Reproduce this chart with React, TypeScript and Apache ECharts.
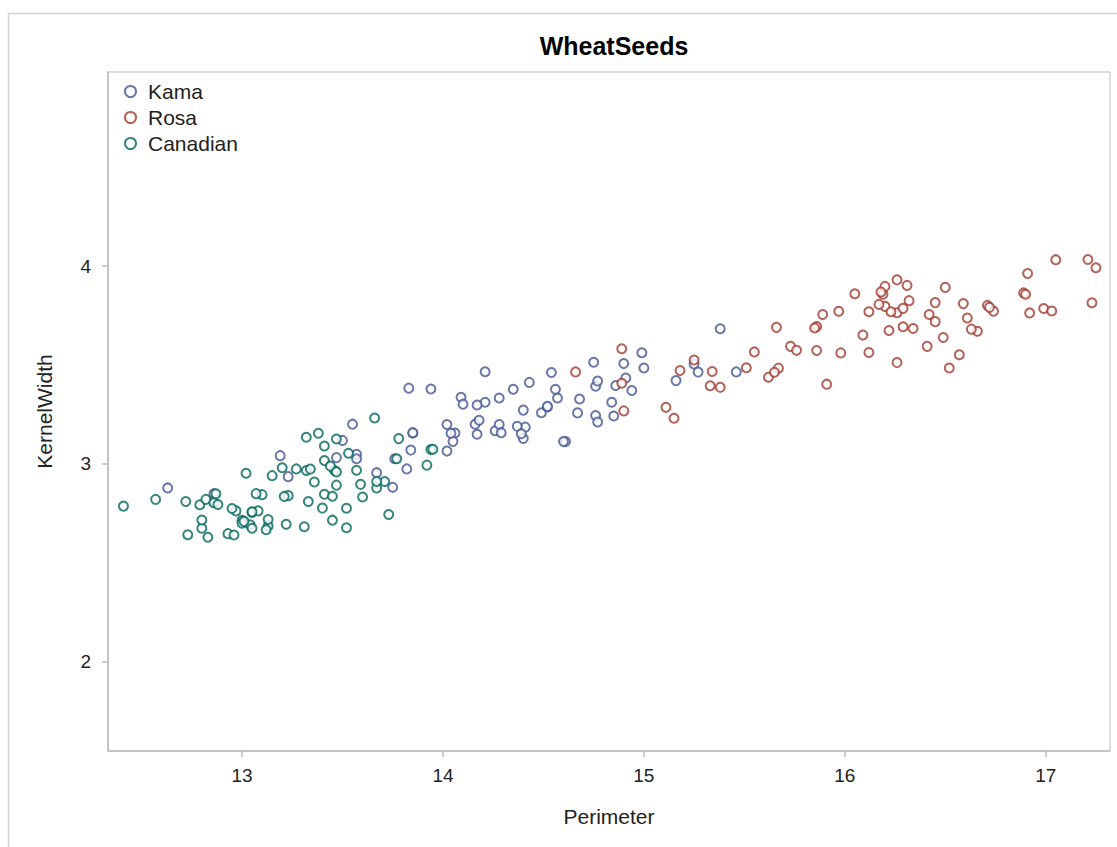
import React, { useEffect, useRef } from "react";
import * as echarts from "echarts";

const seriesNames = ["Kama", "Rosa", "Canadian"];
const seriesColors = ["#445694", "#A23A2E", "#01665E"];
const xTicks = [13, 14, 15, 16, 17];
const yTicks = [2, 3, 4];

const kamaPerimeter = [14.84, 14.57, 14.09, 13.94, 14.99, 14.21, 14.49, 14.1, 15.46, 15.25, 14.85, 14.16, 14.02, 14.06, 14.05, 14.28, 13.83, 14.75, 14.21, 13.57, 14.4, 14.26, 14.9, 13.23, 14.76, 15.16, 13.76, 13.67, 14.18, 14.02, 13.82, 14.94, 14.41, 14.17, 14.68, 15.0, 15.27, 15.38, 14.52, 14.17, 13.85, 13.85, 13.55, 14.86, 14.54, 14.04, 14.76, 14.56, 14.52, 14.67, 14.4, 14.91, 14.61, 14.28, 14.6, 14.77, 14.35, 14.43, 14.77, 13.47, 12.86, 12.63, 13.19, 13.84, 13.57, 13.5, 14.37, 14.29, 14.39, 13.75];
const kamaWidth = [3.312, 3.333, 3.337, 3.379, 3.562, 3.312, 3.259, 3.302, 3.465, 3.505, 3.242, 3.201, 3.199, 3.156, 3.114, 3.333, 3.383, 3.514, 3.466, 3.049, 3.129, 3.168, 3.507, 2.936, 3.245, 3.421, 3.026, 2.956, 3.221, 3.065, 2.975, 3.371, 3.186, 3.15, 3.328, 3.485, 3.464, 3.683, 3.288, 3.298, 3.156, 3.158, 3.201, 3.396, 3.462, 3.155, 3.393, 3.377, 3.291, 3.258, 3.272, 3.434, 3.113, 3.199, 3.113, 3.212, 3.377, 3.412, 3.419, 3.032, 2.85, 2.879, 3.042, 3.07, 3.026, 3.119, 3.19, 3.158, 3.153, 2.882];

const rosaPerimeter = [15.98, 15.67, 15.73, 16.26, 15.51, 15.62, 15.91, 17.23, 16.49, 15.55, 15.34, 16.19, 16.89, 16.74, 16.71, 16.09, 16.26, 16.66, 17.21, 17.05, 16.99, 16.2, 16.29, 16.05, 16.52, 15.65, 16.59, 16.57, 16.26, 16.34, 15.25, 15.86, 16.5, 16.63, 16.42, 16.29, 16.17, 15.86, 16.92, 16.22, 16.12, 16.72, 16.31, 16.61, 17.25, 16.45, 16.2, 16.45, 16.23, 16.9, 16.91, 16.12, 15.38, 15.97, 14.89, 16.18, 16.41, 15.85, 17.03, 15.66, 15.89, 16.32, 14.9, 15.33, 14.89, 14.66, 15.76, 15.15, 15.11, 15.18];
const rosaWidth = [3.561, 3.484, 3.594, 3.93, 3.486, 3.438, 3.403, 3.814, 3.639, 3.566, 3.467, 3.857, 3.864, 3.772, 3.801, 3.651, 3.764, 3.67, 4.033, 4.032, 3.785, 3.796, 3.693, 3.86, 3.485, 3.463, 3.81, 3.552, 3.512, 3.684, 3.525, 3.694, 3.892, 3.681, 3.755, 3.786, 3.806, 3.573, 3.763, 3.674, 3.769, 3.791, 3.902, 3.737, 3.991, 3.719, 3.897, 3.815, 3.769, 3.857, 3.962, 3.563, 3.387, 3.771, 3.582, 3.869, 3.594, 3.687, 3.773, 3.69, 3.755, 3.825, 3.268, 3.395, 3.408, 3.465, 3.574, 3.231, 3.286, 3.472];

const canadianPerimeter = [13.92, 13.94, 13.95, 13.32, 13.4, 13.13, 13.13, 13.46, 13.71, 12.93, 13.23, 13.52, 13.6, 13.04, 13.05, 13.05, 12.87, 13.73, 13.52, 13.22, 13.67, 13.33, 13.41, 13.57, 12.79, 13.15, 13.59, 13.45, 13.12, 13.0, 13.0, 13.1, 12.97, 13.08, 12.96, 12.57, 13.01, 12.73, 13.05, 13.47, 12.95, 13.41, 13.36, 13.07, 13.77, 13.31, 13.45, 12.8, 12.82, 12.41, 12.8, 12.86, 13.02, 12.83, 13.27, 13.47, 13.53, 13.78, 13.67, 13.38, 13.44, 13.32, 12.72, 13.41, 13.47, 13.2, 12.88, 13.66, 13.21, 13.34];
const canadianWidth = [2.994, 3.073, 3.074, 2.967, 2.777, 2.687, 2.719, 2.967, 2.911, 2.648, 2.84, 2.776, 2.833, 2.693, 2.755, 2.675, 2.849, 2.745, 2.678, 2.695, 2.879, 2.81, 2.847, 2.968, 2.794, 2.941, 2.897, 2.837, 2.668, 2.715, 2.701, 2.845, 2.763, 2.763, 2.641, 2.821, 2.71, 2.642, 2.758, 2.893, 2.775, 3.017, 2.909, 2.85, 3.026, 2.683, 2.716, 2.675, 2.821, 2.787, 2.717, 2.804, 2.953, 2.63, 2.975, 3.126, 3.054, 3.128, 2.911, 3.155, 2.989, 3.135, 2.81, 3.091, 2.96, 2.981, 2.795, 3.232, 2.836, 2.974];

const perimeters = [kamaPerimeter, rosaPerimeter, canadianPerimeter];
const widths = [kamaWidth, rosaWidth, canadianWidth];

const FONT = "'Liberation Sans', Arial, sans-serif";
const AXIS_GRAY = "#b8bcc2";

export default function App() {
  const ref = useRef<HTMLDivElement>(null);

  useEffect(() => {
    if (!ref.current) return;
    const chart = echarts.init(ref.current, undefined, { renderer: "svg" });
    const series = seriesNames.map((name, i) => ({
      name,
      type: "scatter",
      symbol: "emptyCircle",
      symbolSize: 9,
      data: perimeters[i].map((p, j) => [p, widths[i][j]]),
      itemStyle: { color: seriesColors[i], borderColor: seriesColors[i], borderWidth: 1.5 },
      emphasis: { disabled: true },
    }));
    chart.setOption({
      animation: false,
      backgroundColor: "#ffffff",
      textStyle: { fontFamily: FONT },
      title: {
        text: "WheatSeeds",
        left: 609,
        top: 28,
        textAlign: "center",
        textStyle: { fontFamily: FONT, fontSize: 25, fontWeight: "bold", color: "#000" },
      },
      graphic: [
        {
          type: "rect",
          shape: { x: 8.5, y: 13.5, width: 1200, height: 1000 },
          style: { fill: "none", stroke: "#d4d4d4", lineWidth: 1.5 },
          silent: true,
          z: -10,
        },
      ],
      legend: {
        orient: "vertical",
        left: 119,
        top: 76,
        itemWidth: 11,
        itemHeight: 11,
        itemGap: 5,
        icon: "emptyCircle",
        data: seriesNames,
        textStyle: { fontFamily: FONT, fontSize: 21, color: "#222", padding: [0, 0, 0, 7] },
        itemStyle: { borderWidth: 1.5 },
        selectedMode: false,
      },
      grid: {
        left: 108,
        top: 72,
        right: 7,
        bottom: 96,
        show: true,
        borderColor: AXIS_GRAY,
        borderWidth: 1,
      },
      xAxis: {
        type: "value",
        min: 12.333,
        max: 17.32,
        name: "Perimeter",
        nameLocation: "middle",
        nameGap: 55,
        nameTextStyle: { fontFamily: FONT, fontSize: 21, color: "#222" },
        axisLine: { show: true, lineStyle: { color: AXIS_GRAY, width: 1.5 } },
        axisTick: { show: true, length: 6, lineStyle: { color: AXIS_GRAY, width: 1.5 }, customValues: xTicks },
        axisLabel: { fontFamily: FONT, fontSize: 19, color: "#222", margin: 15, customValues: xTicks },
        splitLine: { show: false },
      },
      yAxis: {
        type: "value",
        min: 1.55,
        max: 4.98,
        name: "KernelWidth",
        nameLocation: "middle",
        nameGap: 53,
        nameTextStyle: { fontFamily: FONT, fontSize: 21, color: "#222" },
        axisLine: { show: true, lineStyle: { color: AXIS_GRAY, width: 1.5 } },
        axisTick: { show: true, length: 6, lineStyle: { color: AXIS_GRAY, width: 1.5 }, customValues: yTicks },
        axisLabel: { fontFamily: FONT, fontSize: 19, color: "#222", margin: 17, customValues: yTicks },
        splitLine: { show: false },
      },
      series,
    });
    return () => chart.dispose();
  }, []);

  return (
    <div
      ref={ref}
      style={{ position: "absolute", left: 0, top: 0, width: 1117, height: 847 }}
    />
  );
}
